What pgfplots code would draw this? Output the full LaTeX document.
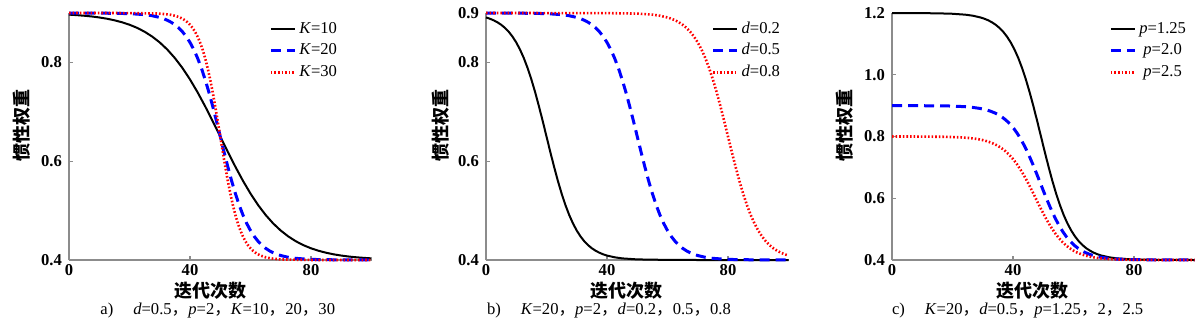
\documentclass[border=0pt]{standalone}
\usepackage{fontspec}
\setmainfont{Liberation Serif}
\newfontfamily\cjk{Noto Sans CJK SC}
\usepackage{pgfplots}
\pgfplotsset{compat=1.18}
\definecolor{mblue}{rgb}{0,0,1}
\definecolor{mred}{rgb}{1,0,0}
\pgfplotsset{
  myax/.style={
    scale only axis, width=151.25pt, height=123.5pt,
    xmin=0, xmax=100, ymin=0.4,
    axis lines*=left,
    axis line style={black!45, line width=0.7pt},
    tick style={black!45, line width=0.6pt},
    tick align=inside, major tick length=2pt,
    xtick={0,40,80}, xticklabels={0,40,80},
    /pgf/number format/assume math mode=true,
    every tick label/.append style={font=\bfseries\fontsize{8.3}{9.5}\selectfont},
    xticklabel style={inner sep=2pt},
    clip=false,
    legend style={draw=none, fill=none, font=\fontsize{8.3}{9.5}\selectfont,
      at={(1,1)}, anchor=north east, inner sep=0pt, outer sep=0pt,
      row sep=2.6pt, column sep=1pt,
      nodes={inner sep=0.5pt, text height=5.6pt, text depth=1.6pt}},
    cells={anchor=west},
    legend image code/.code={\draw[##1] (0pt,0pt) -- (12pt,0pt);},
  },
  sblack/.style={black, line width=1pt},
  sblue/.style={mblue, line width=1.5pt, dash pattern=on 5pt off 3pt},
  sred/.style={mred, line width=1.3pt, dash pattern=on 0.8pt off 1pt},
}
\begin{document}
\begin{tikzpicture}
\useasboundingbox (0,0) rectangle (600pt,161.5pt);
% ---------------- panel a
\begin{axis}[myax, at={(34.5pt,31.5pt)}, anchor=south west, ymax=0.9,
  ytick={0.4,0.6,0.8}, yticklabels={0.4,0.6,0.8},
  legend style={xshift=-16.75pt, yshift=-4pt}]
\addplot[sblack] table {
0 0.8967
2.5 0.8957
5 0.8945
7.5 0.8930
10 0.8910
12.5 0.8885
15 0.8853
17.5 0.8813
20 0.8763
22.5 0.8700
25 0.8621
27.5 0.8523
30 0.8404
32.5 0.8260
35 0.8088
37.5 0.7887
40 0.7655
42.5 0.7396
45 0.7112
47.5 0.6811
50 0.6500
52.5 0.6189
55 0.5888
57.5 0.5604
60 0.5345
62.5 0.5113
65 0.4912
67.5 0.4740
70 0.4596
72.5 0.4477
75 0.4379
77.5 0.4300
80 0.4237
82.5 0.4187
85 0.4147
87.5 0.4115
90 0.4090
92.5 0.4070
95 0.4055
97.5 0.4043
100 0.4033
};
\addlegendentry{\textit{K}=10}
\addplot[sblue] table {
0 0.9000
10 0.8998
20 0.8988
25 0.8967
27.5 0.8945
30 0.8910
31.25 0.8885
32.5 0.8853
33.75 0.8813
35 0.8763
36.25 0.8700
37.5 0.8621
38.75 0.8523
40 0.8404
41.25 0.8260
42.5 0.8088
43.75 0.7887
45 0.7655
46.25 0.7396
47.5 0.7112
48.75 0.6811
50 0.6500
51.25 0.6189
52.5 0.5888
53.75 0.5604
55 0.5345
56.25 0.5113
57.5 0.4912
58.75 0.4740
60 0.4596
61.25 0.4477
62.5 0.4379
63.75 0.4300
65 0.4237
66.25 0.4187
67.5 0.4147
68.75 0.4115
70 0.4090
72.5 0.4055
75 0.4033
80 0.4012
90 0.4002
100 0.4000
};
\addlegendentry{\textit{K}=20}
\addplot[sred] table {
0 0.9000
20 0.8999
30 0.8988
33.33 0.8967
35 0.8945
36.67 0.8910
37.5 0.8885
38.33 0.8853
39.17 0.8813
40 0.8763
40.83 0.8700
41.67 0.8621
42.5 0.8523
43.33 0.8404
44.17 0.8260
45 0.8088
45.83 0.7887
46.67 0.7655
47.5 0.7396
48.33 0.7112
49.17 0.6811
50 0.6500
50.83 0.6189
51.67 0.5888
52.5 0.5604
53.33 0.5345
54.17 0.5113
55 0.4912
55.83 0.4740
56.67 0.4596
57.5 0.4477
58.33 0.4379
59.17 0.4300
60 0.4237
60.83 0.4187
61.67 0.4147
62.5 0.4115
63.33 0.4090
65 0.4055
66.67 0.4033
70 0.4012
80 0.4001
100 0.4000
};
\addlegendentry{\textit{K}=30}
\end{axis}
% ---------------- panel b
\begin{axis}[myax, at={(243pt,31.5pt)}, anchor=south west, ymax=0.9,
  ytick={0.4,0.6,0.8,0.9}, yticklabels={0.4,0.6,0.8,0.9},
  legend style={xshift=-3.75pt, yshift=-4pt}]
\addplot[sblack] table {
0 0.8910
1.25 0.8885
2.5 0.8853
3.75 0.8813
5 0.8763
6.25 0.8700
7.5 0.8621
8.75 0.8523
10 0.8404
11.25 0.8260
12.5 0.8088
13.75 0.7887
15 0.7655
16.25 0.7396
17.5 0.7112
18.75 0.6811
20 0.6500
21.25 0.6189
22.5 0.5888
23.75 0.5604
25 0.5345
26.25 0.5113
27.5 0.4912
28.75 0.4740
30 0.4596
31.25 0.4477
32.5 0.4379
33.75 0.4300
35 0.4237
36.25 0.4187
37.5 0.4147
38.75 0.4115
40 0.4090
42.5 0.4055
45 0.4033
50 0.4012
60 0.4002
70 0.4000
100 0.4000
};
\addlegendentry{\textit{d}=0.2}
\addplot[sblue] table {
0 0.9000
10 0.8998
20 0.8988
25 0.8967
27.5 0.8945
30 0.8910
31.25 0.8885
32.5 0.8853
33.75 0.8813
35 0.8763
36.25 0.8700
37.5 0.8621
38.75 0.8523
40 0.8404
41.25 0.8260
42.5 0.8088
43.75 0.7887
45 0.7655
46.25 0.7396
47.5 0.7112
48.75 0.6811
50 0.6500
51.25 0.6189
52.5 0.5888
53.75 0.5604
55 0.5345
56.25 0.5113
57.5 0.4912
58.75 0.4740
60 0.4596
61.25 0.4477
62.5 0.4379
63.75 0.4300
65 0.4237
66.25 0.4187
67.5 0.4147
68.75 0.4115
70 0.4090
72.5 0.4055
75 0.4033
80 0.4012
90 0.4002
100 0.4000
};
\addlegendentry{\textit{d}=0.5}
\addplot[sred] table {
0 0.9000
40 0.8998
50 0.8988
55 0.8967
57.5 0.8945
60 0.8910
61.25 0.8885
62.5 0.8853
63.75 0.8813
65 0.8763
66.25 0.8700
67.5 0.8621
68.75 0.8523
70 0.8404
71.25 0.8260
72.5 0.8088
73.75 0.7887
75 0.7655
76.25 0.7396
77.5 0.7112
78.75 0.6811
80 0.6500
81.25 0.6189
82.5 0.5888
83.75 0.5604
85 0.5345
86.25 0.5113
87.5 0.4912
88.75 0.4740
90 0.4596
91.25 0.4477
92.5 0.4379
93.75 0.4300
95 0.4237
96.25 0.4187
97.5 0.4147
98.75 0.4115
100 0.4090
};
\addlegendentry{\textit{d}=0.8}
\end{axis}
% ---------------- panel c
\begin{axis}[myax, at={(446pt,31.5pt)}, anchor=south west, ymax=1.2,
  ytick={0.4,0.6,0.8,1.0,1.2}, yticklabels={0.4,0.6,0.8,1.0,1.2},
  legend style={xshift=-3.75pt, yshift=-4pt}]
\addplot[sblack] table {
0 1.2000
10 1.1997
19.25 1.1980
24.25 1.1946
26.75 1.1912
29.25 1.1856
30.5 1.1816
31.75 1.1766
33 1.1701
34.25 1.1621
35.5 1.1519
36.75 1.1393
38 1.1237
39.25 1.1046
40.5 1.0816
41.75 1.0541
43 1.0218
44.25 0.9848
45.5 0.9433
46.75 0.8980
48 0.8497
49.25 0.8000
50.5 0.7503
51.75 0.7020
53 0.6567
54.25 0.6152
55.5 0.5782
56.75 0.5459
58 0.5184
59.25 0.4954
60.5 0.4763
61.75 0.4607
63 0.4481
64.25 0.4379
65.5 0.4299
66.75 0.4234
68 0.4184
69.25 0.4144
71.75 0.4088
74.25 0.4054
79.25 0.4020
89.25 0.4003
100 0.4000
};
\addlegendentry{\textit{p}=1.25}
\addplot[sblue] table {
0 0.9000
9 0.8998
19 0.8988
24 0.8967
26.5 0.8945
29 0.8910
30.25 0.8885
31.5 0.8853
32.75 0.8813
34 0.8763
35.25 0.8700
36.5 0.8621
37.75 0.8523
39 0.8404
40.25 0.8260
41.5 0.8088
42.75 0.7887
44 0.7655
45.25 0.7396
46.5 0.7112
47.75 0.6811
49 0.6500
50.25 0.6189
51.5 0.5888
52.75 0.5604
54 0.5345
55.25 0.5113
56.5 0.4912
57.75 0.4740
59 0.4596
60.25 0.4477
61.5 0.4379
62.75 0.4300
64 0.4237
65.25 0.4187
66.5 0.4147
67.75 0.4115
69 0.4090
71.5 0.4055
74 0.4033
79 0.4012
89 0.4002
100 0.4000
};
\addlegendentry{\textit{p}=2.0}
\addplot[sred] table {
0 0.8000
7.5 0.7999
17.5 0.7990
22.5 0.7973
25 0.7956
27.5 0.7928
28.75 0.7908
30 0.7883
31.25 0.7851
32.5 0.7810
33.75 0.7760
35 0.7697
36.25 0.7619
37.5 0.7523
38.75 0.7408
40 0.7270
41.25 0.7109
42.5 0.6924
43.75 0.6717
45 0.6490
46.25 0.6249
47.5 0.6000
48.75 0.5751
50 0.5510
51.25 0.5283
52.5 0.5076
53.75 0.4891
55 0.4730
56.25 0.4592
57.5 0.4477
58.75 0.4381
60 0.4303
61.25 0.4240
62.5 0.4190
63.75 0.4149
65 0.4117
66.25 0.4092
67.5 0.4072
70 0.4044
72.5 0.4027
77.5 0.4010
87.5 0.4001
100 0.4000
};
\addlegendentry{\textit{p}=2.5}
\end{axis}
% ---------------- labels
\foreach \xl in {105.25pt,313.3pt,516pt}
  \node[inner sep=0pt] at (\xl,16.25pt) {\cjk\bfseries\fontsize{9}{10}\selectfont 迭代次数};
\foreach \yl in {11pt,220.5pt,422.5pt}
  \node[inner sep=0pt, rotate=90] at (\yl,99pt) {\cjk\bfseries\fontsize{9}{10}\selectfont 惯性权重};
\node[inner sep=0pt, anchor=base west] at (50pt,4.5pt) {\fontsize{8.3}{9.5}\selectfont a)\hspace{10pt}\textit{d}=0.5{\cjk ，}\textit{p}=2{\cjk ，}\textit{K}=10{\cjk ，}20{\cjk ，}30};
\node[inner sep=0pt, anchor=base west] at (243.3pt,4.5pt) {\fontsize{8.3}{9.5}\selectfont b)\hspace{10pt}\textit{K}=20{\cjk ，}\textit{p}=2{\cjk ，}\textit{d}=0.2{\cjk ，}0.5{\cjk ，}0.8};
\node[inner sep=0pt, anchor=base west] at (445.8pt,4.5pt) {\fontsize{8.3}{9.5}\selectfont c)\hspace{10pt}\textit{K}=20{\cjk ，}\textit{d}=0.5{\cjk ，}\textit{p}=1.25{\cjk ，}2{\cjk ，}2.5};
\end{tikzpicture}
\end{document}
